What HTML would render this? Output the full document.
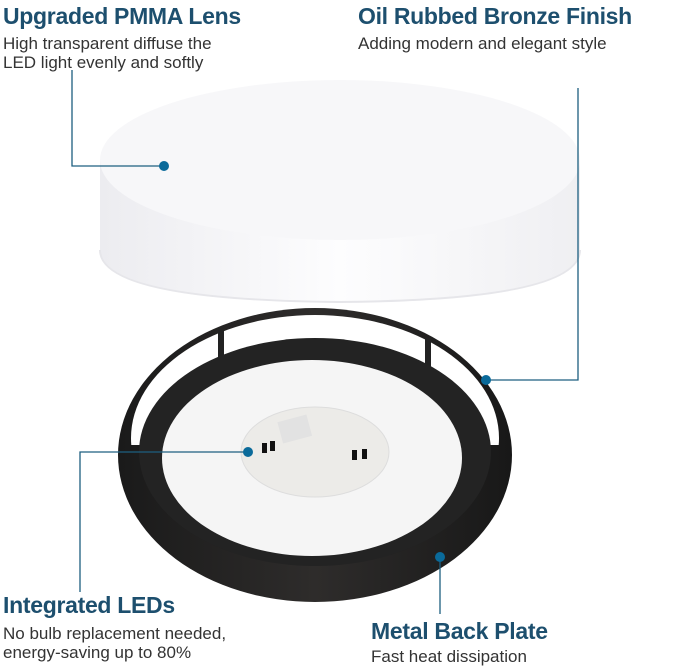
<!DOCTYPE html>
<html><head><meta charset="utf-8"><style>
body{margin:0;background:#fff;width:679px;height:670px;overflow:hidden;position:relative;font-family:"Liberation Sans",sans-serif}
.h{position:absolute;font-weight:bold;font-size:23px;color:#1d4f6e;white-space:nowrap;letter-spacing:-0.3px}
.t{position:absolute;font-size:17px;color:#333;line-height:19px;white-space:nowrap}
svg{position:absolute;left:0;top:0}
</style></head><body>
<svg width="679" height="670">
<defs>
<linearGradient id="lg" x1="0" y1="0" x2="1" y2="0"><stop offset="0" stop-color="#ececf0"/><stop offset="0.5" stop-color="#fdfdfe"/><stop offset="1" stop-color="#efeff2"/></linearGradient>
<linearGradient id="bk" x1="0" y1="0" x2="1" y2="0"><stop offset="0" stop-color="#1a1a1a"/><stop offset="0.5" stop-color="#2e2c2b"/><stop offset="1" stop-color="#181818"/></linearGradient>
<clipPath id="top"><rect x="0" y="0" width="679" height="445"/></clipPath>
</defs>
<!-- lens -->
<path d="M100,160 L100,250 Q100,300 340,302 Q580,300 580,250 L580,160 Z" fill="url(#lg)"/>
<ellipse cx="340" cy="160" rx="240" ry="80" fill="#f7f7f9"/>
<path d="M100,250 Q100,300 340,302 Q580,300 580,250" fill="none" stroke="#e6e6ea" stroke-width="2"/>
<!-- ring -->
<ellipse cx="315" cy="455" rx="197" ry="147" fill="url(#bk)"/>
<ellipse cx="315" cy="438" rx="184" ry="123" fill="#fff" clip-path="url(#top)"/>
<rect x="218" y="330" width="6" height="28" fill="#222"/><rect x="425" y="338" width="6" height="30" fill="#222"/>
<ellipse cx="315" cy="452" rx="176" ry="114" fill="#232323"/>
<ellipse cx="312" cy="458" rx="150" ry="98" fill="#f5f5f5"/>
<ellipse cx="315" cy="452" rx="74" ry="45" fill="#ecebe8" stroke="#ddd"/>
<rect x="280" y="418" width="30" height="22" fill="#e2e2e2" transform="rotate(-15 295 430)"/>
<rect x="262" y="443" width="5" height="10" fill="#111"/><rect x="270" y="441" width="5" height="10" fill="#111"/>
<rect x="352" y="450" width="5" height="10" fill="#111"/><rect x="362" y="449" width="5" height="10" fill="#111"/>
<!-- connectors -->
<g stroke="#1d5f80" stroke-width="1.3" fill="none">
<polyline points="72,70 72,166 164,166"/>
<polyline points="578,88 578,380 486,380"/>
<polyline points="248,452 80,452 80,592"/>
<polyline points="440,557 440,614"/>
</g>
<g fill="#0a6a9a">
<circle cx="164" cy="166" r="5"/><circle cx="486" cy="380" r="5"/><circle cx="248" cy="452" r="5"/><circle cx="440" cy="557" r="5"/>
</g>
</svg>
<div class="h" style="left:3px;top:3px">Upgraded PMMA Lens</div>
<div class="t" style="left:3px;top:34px">High transparent diffuse the<br>LED light evenly and softly</div>
<div class="h" style="left:358px;top:3px">Oil Rubbed Bronze Finish</div>
<div class="t" style="left:358px;top:34px">Adding modern and elegant style</div>
<div class="h" style="left:3px;top:592px">Integrated LEDs</div>
<div class="t" style="left:3px;top:624px">No bulb replacement needed,<br>energy-saving up to 80%</div>
<div class="h" style="left:371px;top:618px">Metal Back Plate</div>
<div class="t" style="left:371px;top:647px">Fast heat dissipation</div>
</body></html>
